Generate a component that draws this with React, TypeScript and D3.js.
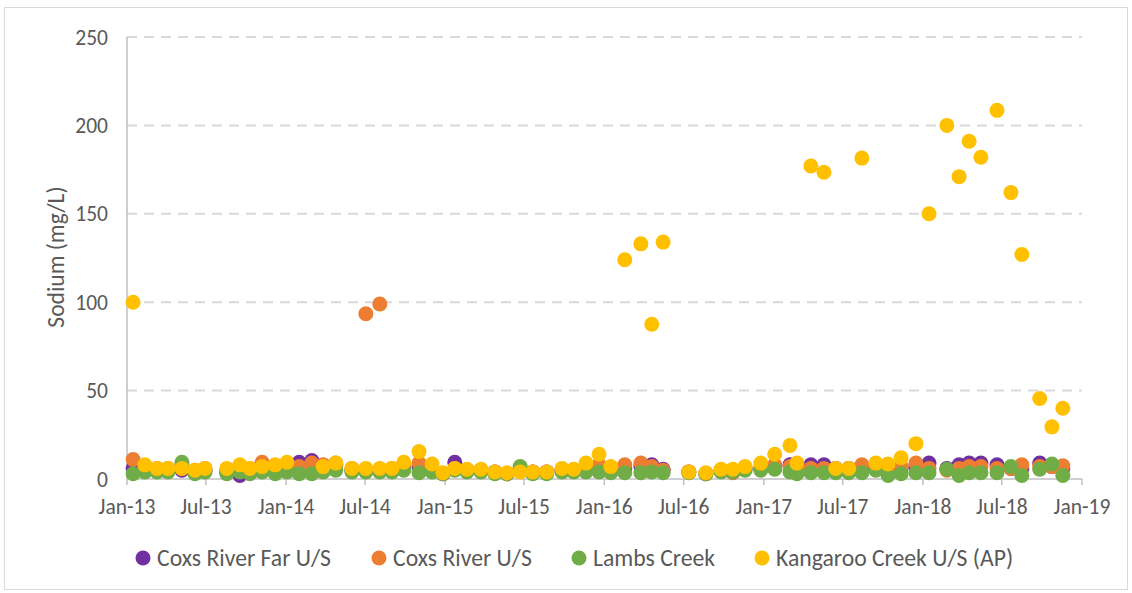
import React from "react";
import * as d3 from "d3";

const sampleDates = [
  "2013-01-15", "2013-02-11", "2013-03-11", "2013-04-05", "2013-05-07", "2013-06-06", "2013-06-29",
  "2013-08-18", "2013-09-17", "2013-10-10", "2013-11-07", "2013-12-07", "2014-01-03", "2014-01-31",
  "2014-03-01", "2014-03-27", "2014-04-25", "2014-06-01", "2014-07-03", "2014-08-04", "2014-09-01",
  "2014-09-28", "2014-11-02", "2014-12-02", "2014-12-27", "2015-01-23", "2015-02-20", "2015-03-24",
  "2015-04-25", "2015-05-23", "2015-06-22", "2015-07-21", "2015-08-22", "2015-09-26", "2015-10-23",
  "2015-11-20", "2015-12-20", "2016-01-16", "2016-02-17", "2016-03-25", "2016-04-19", "2016-05-15",
  "2016-07-13", "2016-08-21", "2016-09-25", "2016-10-22", "2016-11-19", "2016-12-25", "2017-01-26",
  "2017-03-02", "2017-03-18", "2017-04-19", "2017-05-19", "2017-06-15", "2017-07-15", "2017-08-14",
  "2017-09-15", "2017-10-13", "2017-11-12", "2017-12-16", "2018-01-15", "2018-02-25", "2018-03-25",
  "2018-04-17", "2018-05-14", "2018-06-20", "2018-07-22", "2018-08-16", "2018-09-26", "2018-10-24",
  "2018-11-18",
];

const coxsRiverFarUS = [
  6, 5, 5, 5, 5, 4, 5,
  4, 2, 5, 6, 6, 6, 9.5,
  10.5, 7, 8, 5, 5, 5, 5,
  6, 7, 5, 3, 9.5, 5, 5,
  4, 3, 5, 4, 4, 5, 5,
  6, 6, 5, 6, 7, 8, 5.5,
  4, 3, 5, 4, 6, 6, 7,
  8, 7, 8, 8, 6, 6, 6,
  6, 6, 6, 7, 9, 6, 8,
  9, 9, 8, 6, 6, 9, 7,
  6,
];

const coxsRiverUS = [
  11, 7, 6, 6, 6, 5, 6,
  5, 6, 6, 9.5, 7, 8, 7,
  9, 8, 9, 6, 93.5, 99, 6,
  7, 9, 6, 3, 6, 5, 5,
  4, 3, 5, 4, 4, 5, 5,
  6, 8, 6, 8, 9, 7, 5,
  4, 3, 5, 3.5, 6, 6, 8,
  7, 6, 6, 6, 6, 6, 8,
  7, 6, 7, 9, 6, 5, 6,
  7, 7, 6, 6, 8, 7, 7,
  7.5,
];

const lambsCreek = [
  3, 4, 4, 4, 9.5, 3, 4,
  3, 4, 3, 4, 3, 4, 3,
  3, 4, 5, 4, 4, 4, 4,
  5, 3.5, 4, 3, 5, 4, 4,
  3, 3, 7, 3, 3, 4, 4,
  4, 4, 3.5, 3.5, 3.5, 4, 3.5,
  3.5, 3, 4, 4, 5, 5, 5.5,
  4, 3, 3.5, 3.5, 3.5, 3.5, 3.5,
  5, 2, 3, 3.5, 3.5, 5.5, 2,
  3.5, 3.5, 3.5, 7, 2, 5.5, 8.5,
  2,
];

const kangarooCreekUS = [
  100, 8, 6, 6, 6, 5, 6,
  6, 8, 6, 7, 8, 9.5, null,
  null, 7, 9, 6, 6, 6, 6,
  9.5, 15.5, 8.5, 3.5, 6, 5.5, 5.5,
  4, 3.5, 4, 4, 4, 6, 5.5,
  9, 14, 7, 124, 133, 87.5, 134,
  4, 3.5, 5.5, 5.5, 7, 9, 14,
  19, 9, 177, 173.5, 6, 6, 181.5,
  9, 8.5, 12, 20, 150, 200, 171,
  191, 182, 208.5, 162, 127, 45.5, 29.5,
  40,
];

const seriesNames = ["Coxs River Far U/S", "Coxs River U/S", "Lambs Creek", "Kangaroo Creek U/S (AP)"];
const seriesColors = ["#7030A0", "#ED7D31", "#70AD47", "#FFC000"];
const yTicks = [0, 50, 100, 150, 200, 250];
const xTickDates = [
  "2013-01-01", "2013-07-01", "2014-01-01", "2014-07-01", "2015-01-01", "2015-07-01", "2016-01-01",
  "2016-07-01", "2017-01-01", "2017-07-01", "2018-01-01", "2018-07-01", "2019-01-01",
];
const yTitle = "Sodium (mg/L)";

const W = 1132;
const H = 593;
const FONT = "Calibri, Carlito, 'Liberation Sans', Arial, sans-serif";
const TEXT = "#595959";

export default function App() {
  const parse = d3.timeParse("%Y-%m-%d");
  const fmt = d3.timeFormat("%b-%y");
  const x = d3
    .scaleTime()
    .domain([parse(xTickDates[0]) as Date, parse(xTickDates[xTickDates.length - 1]) as Date])
    .range([127, 1082]);
  const y = d3.scaleLinear().domain([0, 250]).range([479, 37]);

  const allSeries = [coxsRiverFarUS, coxsRiverUS, lambsCreek, kangarooCreekUS];
  const legendX = [143, 379, 579, 762];

  return (
    <svg
      width={W}
      height={H}
      style={{ position: "absolute", left: 0, top: 0, background: "#fff" }}
      fontFamily={FONT}
    >
      <rect x={4.5} y={7.5} width={1123} height={582} fill="#fff" stroke="#d9d9d9" strokeWidth={1} />
      {yTicks.map((t) => (
        <g key={t}>
          {t > 0 && (
            <line
              x1={x.range()[0]}
              x2={x.range()[1]}
              y1={y(t)}
              y2={y(t)}
              stroke="#d9d9d9"
              strokeWidth={2}
              strokeDasharray="10,7"
            />
          )}
          <text x={108} y={y(t)} dy="0.35em" textAnchor="end" fontSize={21.5} fill={TEXT}>
            {t}
          </text>
        </g>
      ))}
      <line x1={127} x2={127} y1={y(250)} y2={y(0)} stroke="#bfbfbf" strokeWidth={1.5} />
      <line x1={127} x2={x.range()[1]} y1={y(0)} y2={y(0)} stroke="#bfbfbf" strokeWidth={1.5} />
      {xTickDates.map((d) => {
        const xx = x(parse(d) as Date);
        return (
          <g key={d}>
            <line x1={xx} x2={xx} y1={y(0)} y2={y(0) + 6} stroke="#bfbfbf" strokeWidth={1.5} />
            <text x={xx} y={514} textAnchor="middle" fontSize={21.5} fill={TEXT}>
              {fmt(parse(d) as Date)}
            </text>
          </g>
        );
      })}
      <text
        transform={`translate(56,${257}) rotate(-90)`}
        textAnchor="middle"
        dy="0.35em"
        fontSize={23.5}
        fill={TEXT}
      >
        {yTitle}
      </text>
      {allSeries.map((vals, si) => (
        <g key={si}>
          {vals.map((v, i) =>
            v == null ? null : (
              <circle
                key={i}
                cx={x(parse(sampleDates[i]) as Date)}
                cy={y(v)}
                r={7.5}
                fill={seriesColors[si]}
              />
            )
          )}
        </g>
      ))}
      {seriesNames.map((n, i) => (
        <g key={n}>
          <circle cx={legendX[i]} cy={558} r={7.5} fill={seriesColors[i]} />
          <text x={legendX[i] + 14} y={566} fontSize={23.7} fill={TEXT}>
            {n}
          </text>
        </g>
      ))}
    </svg>
  );
}
